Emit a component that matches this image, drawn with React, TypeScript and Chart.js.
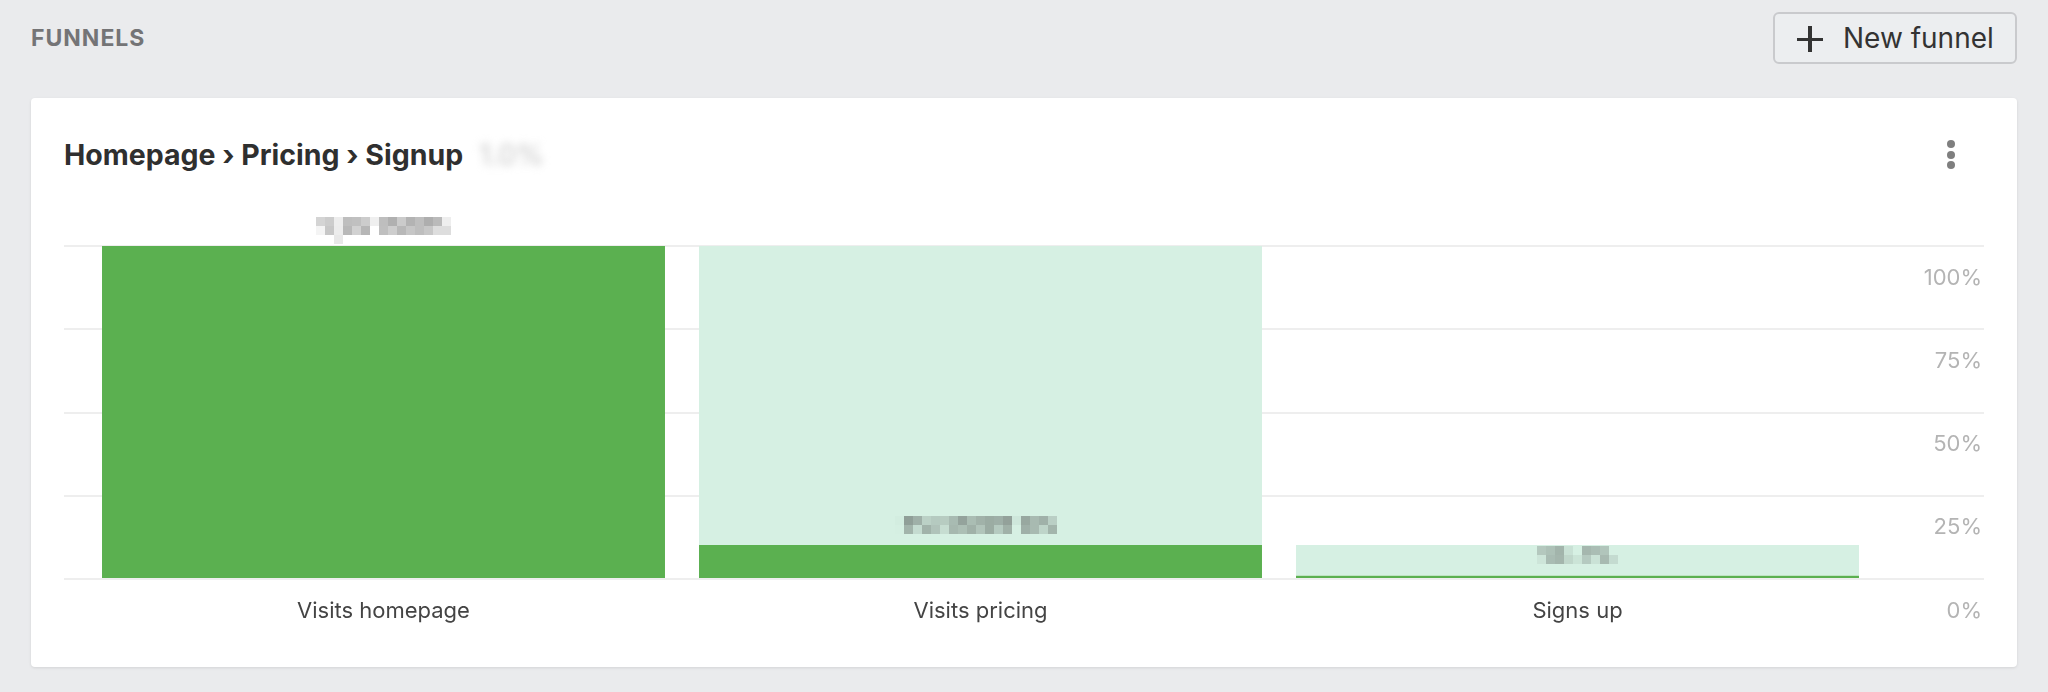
import React, { useEffect, useRef } from 'react';
import { Chart, registerables } from 'chart.js';

Chart.register(...registerables);

// ---- data ----
const steps = ['Visits homepage', 'Visits pricing', 'Signs up'];
const conversionPct = [100, 10.2, 1.0];
const dropOffPct = [0, 89.8, 9.2];
const visitorLabels = ['5,412 visitors', '552 visitors 10%', '54 · 1%'];
const yTickStep = 25;
const yTickSuffix = '%';

const FONT = 'Inter, "Noto Sans", Roboto, sans-serif';
const DARK_GREEN = '#5bb050';
const LIGHT_GREEN = '#d6f0e3';
const GRID = '#eeeeee';

function drawPixelText(ctx: CanvasRenderingContext2D, text: string, cx: number, cy: number) {
  const block = 9;
  const font = `20px ${FONT}`;
  ctx.save();
  ctx.font = font;
  const w = ctx.measureText(text).width;
  ctx.restore();
  const cols = Math.ceil((w + 6) / block);
  const rows = 3;
  const off = document.createElement('canvas');
  off.width = cols;
  off.height = rows;
  const o = off.getContext('2d');
  if (!o) return;
  o.scale(1 / block, 1 / block);
  o.font = font;
  o.fillStyle = '#3c3c3c';
  o.textAlign = 'center';
  o.textBaseline = 'middle';
  o.fillText(text, (cols * block) / 2, (rows * block) / 2);
  ctx.save();
  ctx.imageSmoothingEnabled = false;
  ctx.drawImage(off, cx - (cols * block) / 2, cy - (rows * block) / 2, cols * block, rows * block);
  ctx.restore();
}

const pixelLabels = {
  id: 'pixelLabels',
  afterDatasetsDraw(chart: any) {
    const meta = chart.getDatasetMeta(0);
    const ctx = chart.ctx as CanvasRenderingContext2D;
    meta.data.forEach((el: any, i: number) => {
      drawPixelText(ctx, visitorLabels[i], el.x, el.y - 16);
    });
  },
};

function FunnelChart() {
  const ref = useRef<HTMLCanvasElement | null>(null);
  useEffect(() => {
    if (!ref.current) return;
    const chart = new Chart(ref.current, {
      type: 'bar',
      data: {
        labels: steps,
        datasets: [
          {
            label: 'Conversion',
            data: conversionPct,
            backgroundColor: DARK_GREEN,
            yAxisID: 'y',
            categoryPercentage: 1,
            barPercentage: 0.943,
          },
          {
            label: 'Drop-off',
            data: dropOffPct,
            backgroundColor: LIGHT_GREEN,
            yAxisID: 'y',
            categoryPercentage: 1,
            barPercentage: 0.943,
          },
        ],
      },
      options: {
        animation: false,
        responsive: true,
        maintainAspectRatio: false,
        layout: { padding: { left: 24, right: 16, top: 55, bottom: 22 } },
        plugins: { legend: { display: false }, tooltip: { enabled: false } },
        scales: {
          x: {
            stacked: true,
            grid: { display: false, drawTicks: false },
            border: { display: false },
            ticks: { color: '#444444', font: { family: FONT, size: 22 }, padding: 19 },
            afterFit: (s: any) => {
              s.height = 60;
              s.paddingLeft = 0;
              s.paddingRight = 0;
            },
          },
          y: {
            stacked: true,
            position: 'right',
            min: 0,
            max: 100,
            border: { display: false },
            grid: { color: GRID, lineWidth: 2, drawTicks: true, tickLength: 108 },
            ticks: {
              stepSize: yTickStep,
              mirror: true,
              padding: 106,
              labelOffset: 32,
              crossAlign: 'near',
              color: '#b4b4b4',
              font: { family: FONT, size: 22 },
              callback: (v: any) => `${v}${yTickSuffix}`,
            },
            afterFit: (s: any) => {
              s.width = 108;
              s.paddingTop = 0;
              s.paddingBottom = 0;
            },
          },
          yl: {
            position: 'left',
            min: 0,
            max: 100,
            border: { display: false },
            grid: { color: GRID, lineWidth: 2, drawOnChartArea: false, drawTicks: true, tickLength: 21 },
            ticks: { stepSize: yTickStep, display: false },
            afterFit: (s: any) => {
              s.width = 21;
              s.paddingTop = 0;
              s.paddingBottom = 0;
            },
          },
        },
      } as any,
      plugins: [pixelLabels],
    });
    return () => chart.destroy();
  }, []);
  return <canvas ref={ref} />;
}

export default function App() {
  const dot: React.CSSProperties = {
    position: 'absolute',
    width: 8,
    height: 8,
    borderRadius: 4,
    background: '#7f7f7f',
    left: 1947,
  };
  return (
    <div
      style={{
        position: 'absolute',
        left: 0,
        top: 0,
        width: 2048,
        height: 692,
        background: '#eaebed',
        fontFamily: FONT,
        overflow: 'hidden',
      }}
    >
      <div
        style={{
          position: 'absolute',
          left: 31,
          top: 24,
          fontSize: 23,
          fontWeight: 700,
          letterSpacing: 1,
          color: '#747476',
          lineHeight: 'normal',
        }}
      >
        FUNNELS
      </div>
      <div
        style={{
          position: 'absolute',
          left: 1773,
          top: 12,
          width: 244,
          height: 52,
          boxSizing: 'border-box',
          border: '2px solid #c9cacd',
          borderRadius: 6,
          background: '#eceef0',
        }}
      >
        <div style={{ position: 'absolute', left: 22, top: 23.5, width: 26, height: 3.5, background: '#333' }} />
        <div style={{ position: 'absolute', left: 33.25, top: 12, width: 3.5, height: 26, background: '#333' }} />
        <div
          style={{
            position: 'absolute',
            left: 68,
            top: 7,
            fontSize: 28,
            color: '#333333',
            lineHeight: 'normal',
            whiteSpace: 'nowrap',
          }}
        >
          New funnel
        </div>
      </div>
      <div
        style={{
          position: 'absolute',
          left: 31,
          top: 98,
          width: 1986,
          height: 569,
          background: '#ffffff',
          borderRadius: 4,
          boxShadow: '0 1px 3px rgba(0,0,0,0.10)',
        }}
      />
      <div
        style={{
          position: 'absolute',
          left: 64,
          top: 137,
          fontSize: 28.5,
          fontWeight: 700,
          color: '#2f2f2f',
          lineHeight: 'normal',
          whiteSpace: 'nowrap',
        }}
      >
        Homepage › Pricing › Signup
        <span style={{ marginLeft: 16, color: '#c4c4c4', filter: 'blur(4px)', fontWeight: 400 }}>1.0%</span>
      </div>
      <div style={{ ...dot, top: 140 }} />
      <div style={{ ...dot, top: 150.5 }} />
      <div style={{ ...dot, top: 161 }} />
      <div style={{ position: 'absolute', left: 40, top: 191, width: 1960, height: 470 }}>
        <FunnelChart />
      </div>
    </div>
  );
}
